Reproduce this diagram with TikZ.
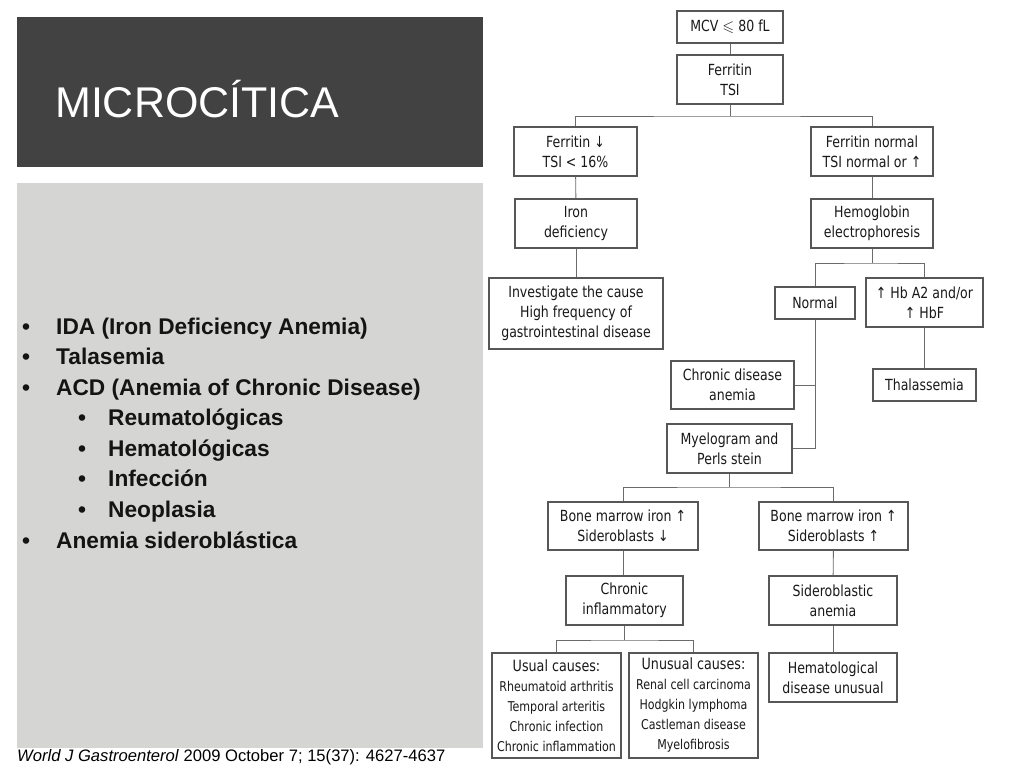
\documentclass[tikz,border=0pt]{standalone}
\usepackage{amssymb}
\usepackage{fontspec}
\setmainfont{Liberation Sans}
\newfontfamily\fcfont[FakeStretch=0.82]{DejaVu Sans}
\newcommand\itmf{\fcfont\fontsize{13.5}{20}\selectfont}
\definecolor{darkpanel}{HTML}{424242}
\definecolor{graypanel}{HTML}{D5D5D3}
\begin{document}
\begin{tikzpicture}[x=1pt,y=-1pt,
  fbox/.style={draw=black!66, line width=1.1pt, fill=white, inner sep=0pt, align=center, text=black!90,
    font=\fcfont\fontsize{15.3}{20}\selectfont},
  conn/.style={draw=black!58, line width=0.9pt},
  blt/.style={anchor=base west, inner sep=0pt, text=black!92, font=\bfseries\fontsize{22.7}{26}\selectfont}]
\useasboundingbox (0,0) rectangle (1024,768);
\fill[white] (0,0) rectangle (1024,768);
\fill[darkpanel] (17,17) rectangle (483,167);
\fill[graypanel] (17,183) rectangle (483,748);
\node[anchor=base west, inner sep=0pt, text=white, font=\fontsize{43}{50}\selectfont] (title) at (55,117) {MICROCÍTICA};

% bullets
\node[blt] (d1) at (22,334) {•};  \node[blt] (t1) at (56,334) {IDA (Iron Deficiency Anemia)};
\node[blt] (d2) at (22,364) {•};  \node[blt] (t2) at (56,364) {Talasemia};
\node[blt] (d3) at (22,395) {•};  \node[blt] (t3) at (56,395) {ACD (Anemia of Chronic Disease)};
\node[blt] (d4) at (78,425) {•};  \node[blt] (t4) at (108,425) {Reumatológicas};
\node[blt] (d5) at (78,456) {•};  \node[blt] (t5) at (108,456) {Hematológicas};
\node[blt] (d6) at (78,486) {•};  \node[blt] (t6) at (108,486) {Infección};
\node[blt] (d7) at (78,517) {•};  \node[blt] (t7) at (108,517) {Neoplasia};
\node[blt] (d8) at (22,548) {•};  \node[blt] (t8) at (56,548) {Anemia sideroblástica};

\node[anchor=base west, inner sep=0pt, font=\fontsize{16.6}{20}\selectfont] (cite) at (17,761)
  {\textit{World J Gastroenterol} 2009 October 7; 15(37): 4627-4637};

% flowchart boxes
\node[fbox, minimum width=106pt, minimum height=32pt] (mcv) at (730,27) {MCV $\leqslant$ 80 fL};
\node[fbox, minimum width=106pt, minimum height=49pt] (fer) at (730,79.5) {Ferritin\\TSI};
\node[fbox, minimum width=123pt, minimum height=49pt] (fdown) at (575.5,151.5) {Ferritin ↓\\TSI < 16\%};
\node[fbox, minimum width=122pt, minimum height=49pt] (fnorm) at (872,151.5) {Ferritin normal\\TSI normal or ↑};
\node[fbox, minimum width=122pt, minimum height=49pt] (iron) at (576,223.5) {Iron\\deficiency};
\node[fbox, minimum width=122pt, minimum height=49pt] (hemo) at (872,223.5) {Hemoglobin\\electrophoresis};
\node[fbox, minimum width=174pt, minimum height=71pt] (inv) at (576,313.5) {Investigate the cause\\High frequency of\\gastrointestinal disease};
\node[fbox, minimum width=80pt, minimum height=32pt] (normal) at (815,303) {Normal};
\node[fbox, minimum width=117pt, minimum height=49pt] (hba) at (924.5,302.5) {↑ Hb A2 and/or\\↑ HbF};
\node[fbox, minimum width=103pt, minimum height=32pt] (thal) at (924.5,385) {Thalassemia};
\node[fbox, minimum width=123pt, minimum height=48pt] (cda) at (732.5,385) {Chronic disease\\anemia};
\node[fbox, minimum width=125pt, minimum height=49pt] (myel) at (729.5,448.5) {Myelogram and\\Perls stein};
\node[fbox, minimum width=150pt, minimum height=48pt] (bmd) at (623,526) {Bone marrow iron ↑\\Sideroblasts ↓};
\node[fbox, minimum width=149pt, minimum height=48pt] (bmu) at (833.5,526) {Bone marrow iron ↑\\Sideroblasts ↑};
\node[fbox, minimum width=117pt, minimum height=49pt] (cinf) at (624.5,600.5) {Chronic\\inflammatory};
\node[fbox, minimum width=128pt, minimum height=49pt] (sidan) at (833,600.5) {Sideroblastic\\anemia};
\node[fbox, minimum width=129pt, minimum height=105pt, font=\fcfont\fontsize{15.5}{20}\selectfont] (usual) at (556.5,705.5)
  {Usual causes:\\{\itmf Rheumatoid arthritis}\\{\itmf Temporal arteritis}\\{\itmf Chronic infection}\\{\itmf Chronic inflammation}};
\node[fbox, minimum width=129pt, minimum height=105pt, font=\fcfont\fontsize{15.5}{20}\selectfont] (unusual) at (693.5,705.5)
  {Unusual causes:\\{\itmf Renal cell carcinoma}\\{\itmf Hodgkin lymphoma}\\{\itmf Castleman disease}\\{\itmf Myelofibrosis}};
\node[fbox, minimum width=128pt, minimum height=49pt] (hema) at (833,677.5) {Hematological\\disease unusual};

% connectors
\coordinate (b1) at (730,116);
\coordinate (b2) at (872,263);
\coordinate (b3) at (729.5,487);
\coordinate (b4) at (624.5,640);
\draw[conn] (mcv) -- (fer);
\draw[conn] (fer.south) -- (b1);
\draw[conn] (fdown.north) |- (b1) -| (fnorm.north);
\draw[conn] (fdown) -- (iron);
\draw[conn] (iron) -- (inv);
\draw[conn] (fnorm) -- (hemo);
\draw[conn] (hemo.south) -- (b2);
\draw[conn] (normal.north) |- (b2) -| (hba.north);
\draw[conn] (hba) -- (thal);
\draw[conn] (normal.south) |- (myel.east);
\draw[conn] (cda.east) -- (normal.south |- cda.east);
\draw[conn] (myel.south) -- (b3);
\draw[conn] (bmd.north) |- (b3) -| (bmu.north);
\draw[conn] (bmd.south) -- (bmd.south |- cinf.north);
\draw[conn] (cinf.south) -- (b4);
\draw[conn] (usual.north) |- (b4) -| (unusual.north);
\draw[conn] (bmu) -- (sidan);
\draw[conn] (sidan) -- (hema);
\end{tikzpicture}
\end{document}
